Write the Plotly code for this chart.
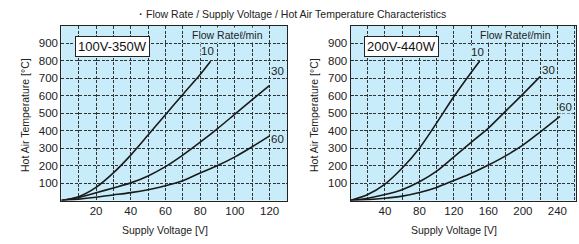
import plotly.graph_objects as go

# ---- data ----
left_x10 = [0, 10, 20, 30, 40, 50, 60, 70, 80, 86]
left_y10 = [0, 22, 75, 158, 260, 375, 492, 608, 722, 798]
left_x30 = [0, 10, 20, 30, 40, 50, 60, 70, 80, 90, 100, 110, 120]
left_y30 = [0, 17, 44, 72, 101, 141, 194, 260, 334, 412, 495, 578, 660]
left_x60 = [0, 10, 20, 30, 40, 50, 60, 70, 80, 90, 100, 110, 120]
left_y60 = [0, 8, 19, 32, 45, 62, 84, 113, 158, 200, 250, 308, 370]

right_x10 = [0, 20, 40, 60, 80, 100, 120, 140, 150]
right_y10 = [0, 34, 94, 186, 300, 445, 596, 734, 800]
right_x30 = [0, 20, 40, 60, 80, 100, 120, 140, 160, 180, 200, 220]
right_y30 = [0, 13, 34, 62, 107, 168, 250, 333, 415, 512, 610, 710]
right_x60 = [0, 20, 40, 60, 80, 100, 120, 140, 160, 180, 200, 220, 243]
right_y60 = [0, 5, 13, 25, 46, 75, 115, 155, 203, 256, 317, 392, 482]

flow_labels = ["10", "30", "60"]
left_ticks = [20, 40, 60, 80, 100, 120]
right_ticks = [40, 80, 120, 160, 200, 240]
y_ticks = [100, 200, 300, 400, 500, 600, 700, 800, 900]

title = "・Flow Rate / Supply Voltage / Hot Air Temperature Characteristics"
box_labels = ["100V-350W", "200V-440W"]

FONT = "Liberation Sans, Arial, sans-serif"
BG = "#c8ecfa"
GRID = "#333333"
TXT = "#222222"

W, H = 579, 244
def px(x):
    return x / W
def py(y):
    return (H - y) / H

fig = go.Figure()

panels = [
    ("x", "y", [(left_x10, left_y10), (left_x30, left_y30), (left_x60, left_y60)],
     [(-3, -10), (8, -14), (8, 3)]),
    ("x2", "y2", [(right_x10, right_y10), (right_x30, right_y30), (right_x60, right_y60)],
     [(-2, -9), (8, -7), (6, -9)]),
]
for xa, ya, series, _ in panels:
    for (xs, ys), name in zip(series, flow_labels):
        fig.add_trace(go.Scatter(x=xs, y=ys, mode="lines", xaxis=xa, yaxis=ya,
                                 line=dict(color="#1a1a1a", width=1.6, shape="spline", smoothing=0.8),
                                 name=name, showlegend=False, hoverinfo="skip"))

DASH = "3px,1.5px"
axis_common = dict(showline=True, linecolor="#222222", linewidth=1, mirror=True,
                   ticks="", showgrid=True, gridcolor=GRID, gridwidth=1, griddash=DASH,
                   zeroline=False, tickfont=dict(family=FONT, size=11.5, color=TXT))

def minor(d):
    return dict(tick0=0, dtick=d, showgrid=True, gridcolor=GRID, griddash=DASH, gridwidth=1)

y_dom = [py(200.5), py(26)]
fig.update_layout(
    width=W, height=H, margin=dict(l=0, r=0, t=0, b=0),
    paper_bgcolor="white", plot_bgcolor=BG,
    xaxis=dict(domain=[px(61.3), px(287)], range=[0, 130], tickvals=left_ticks,
               minor=minor(10), **axis_common),
    yaxis=dict(domain=y_dom, range=[0, 1000], tickvals=y_ticks, anchor="x",
               minor=minor(100), **axis_common),
    xaxis2=dict(domain=[px(350.5), px(576.3)], range=[0, 262], tickvals=right_ticks, anchor="y2",
                minor=minor(20), **axis_common),
    yaxis2=dict(domain=y_dom, range=[0, 1000], tickvals=y_ticks, anchor="x2",
                minor=minor(100), **axis_common),
)

ann = []
ann.append(dict(text=title, x=px(290), y=py(14), xref="paper", yref="paper", showarrow=False,
                font=dict(family=FONT, size=10.5, color=TXT), xanchor="center", yanchor="middle"))
for cx in (25, 314):
    ann.append(dict(text="Hot Air Temperature [°C]", x=px(cx), y=py(115), xref="paper", yref="paper",
                    showarrow=False, textangle=-90, font=dict(family=FONT, size=10.5, color=TXT),
                    xanchor="center", yanchor="middle"))
for cx in (165, 454):
    ann.append(dict(text="Supply Voltage [V]", x=px(cx), y=py(230), xref="paper", yref="paper",
                    showarrow=False, font=dict(family=FONT, size=10.5, color=TXT),
                    xanchor="center", yanchor="middle"))
for cx in (227, 515):
    ann.append(dict(text="Flow Rateℓ/min", x=px(cx), y=py(35), xref="paper", yref="paper",
                    showarrow=False, font=dict(family=FONT, size=10.5, color=TXT),
                    xanchor="center", yanchor="middle", bgcolor=BG))
for cx, txt in zip((112, 401), box_labels):
    ann.append(dict(text=txt, x=px(cx), y=py(46), xref="paper", yref="paper",
                    showarrow=False, font=dict(family=FONT, size=13, color="#111"),
                    xanchor="center", yanchor="middle", bgcolor="white",
                    bordercolor="#222", borderwidth=1, borderpad=2))
for xa, ya, series, offs in panels:
    for (xs, ys), name, (dx, dy) in zip(series, flow_labels, offs):
        ann.append(dict(text=name, x=xs[-1], y=ys[-1], xref=xa, yref=ya, showarrow=False,
                        xshift=dx, yshift=-dy, font=dict(family=FONT, size=11.5, color=TXT),
                        xanchor="center", yanchor="middle", bgcolor=BG, borderpad=0))
fig.update_layout(annotations=ann)

fig.write_html("out.html", config={"displayModeBar": False},
               post_script="document.body.style.margin='0';document.body.style.padding='0';")
